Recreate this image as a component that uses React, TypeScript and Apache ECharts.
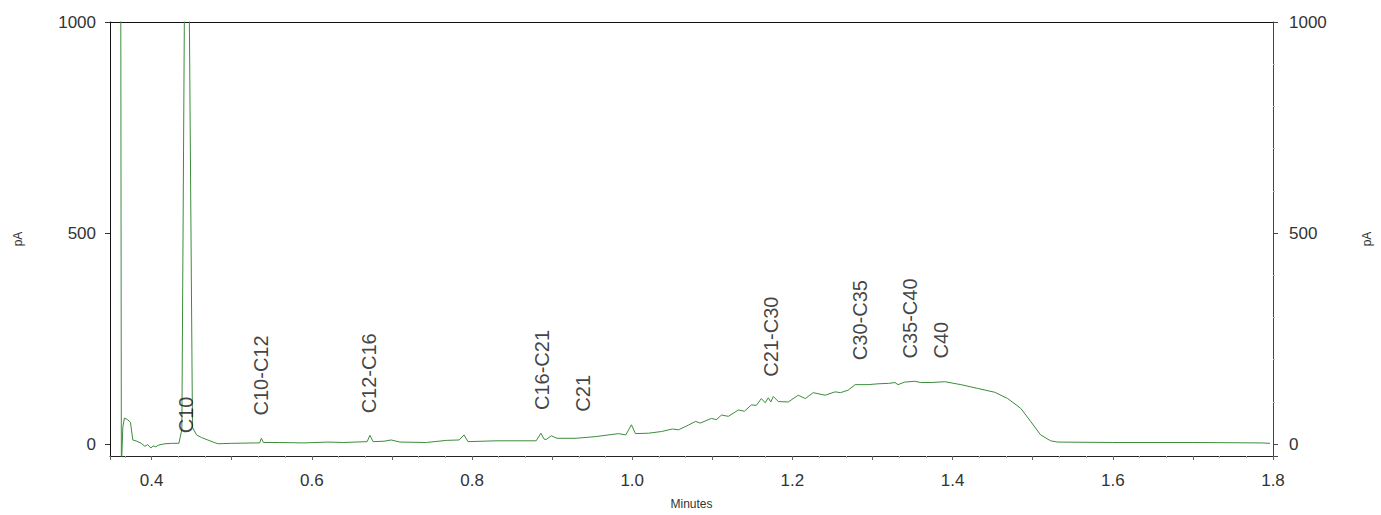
import React, { useEffect, useRef } from "react";
import * as echarts from "echarts";

// Chromatogram trace: retention time (min) and detector signal (pA)
const traceTime = [
  0.3605, 0.3622, 0.364, 0.366, 0.37, 0.3735, 0.3765, 0.3816, 0.387, 0.3916,
  0.395, 0.399, 0.402, 0.405, 0.409, 0.4165, 0.425, 0.434, 0.4377, 0.4408,
  0.442, 0.446, 0.4471, 0.451, 0.456, 0.462, 0.47, 0.478, 0.483, 0.5,
  0.53, 0.5348, 0.537, 0.5395, 0.56, 0.59, 0.62, 0.64, 0.669, 0.6725,
  0.6765, 0.69, 0.699, 0.71, 0.743, 0.768, 0.784, 0.79, 0.795, 0.83,
  0.88, 0.886, 0.89, 0.8925, 0.899, 0.906, 0.93, 0.9545, 0.983, 0.992,
  0.999, 1.004, 1.0205, 1.0367, 1.05, 1.0578, 1.07, 1.079, 1.085, 1.0989,
  1.105, 1.1114, 1.12, 1.1326, 1.14, 1.1487, 1.155, 1.1612, 1.166, 1.1699,
  1.173, 1.1761, 1.1824, 1.1948, 1.2073, 1.216, 1.226, 1.2409, 1.2534, 1.26,
  1.2696, 1.2783, 1.2945, 1.3069, 1.32, 1.3281, 1.3318, 1.34, 1.353, 1.36,
  1.3729, 1.3903, 1.4103, 1.4314, 1.4526, 1.4688, 1.485, 1.4974, 1.5099, 1.5223,
  1.5311, 1.6, 1.7, 1.785, 1.7962,
];
const traceSignal = [
  2500, -60, 40, 62, 58, 52, 10, 7, 2, -5,
  -1, -9, -4, -6, -2, 1, 2, 2, 35, 1000,
  1500, 1500, 1000, 40, 22, 16, 10, 4, 1, 2,
  3, 3, 14, 4, 4, 3, 5, 4, 6, 21,
  6, 7, 10, 5, 4, 9, 10, 22, 6, 8,
  8, 26, 12, 11, 20, 14, 14, 18, 25, 22,
  46, 25, 26, 30, 36, 34, 45, 54, 50, 61,
  58, 69, 66, 81, 78, 93, 92, 108, 98, 110,
  100, 113, 101, 100, 116, 108, 122, 116, 124, 122,
  128, 141, 141, 143, 144, 146, 141, 147, 149, 146,
  146, 148, 141, 132, 123, 108, 85, 54, 22, 8,
  5, 4, 4, 3, 2,
];

// Peak annotations
const peakNames = ["C10", "C10-C12", "C12-C16", "C16-C21", "C21", "C21-C30", "C30-C35", "C35-C40", "C40"];
const peakTimes = [0.4435, 0.536, 0.6718, 0.8872, 0.9389, 1.173, 1.2845, 1.3473, 1.3853];
const peakLabelLevels = [26, 68, 73, 81, 77, 160, 199, 203, 203];

// Axis tick labels
const xTickLabels = ["0.4", "0.6", "0.8", "1.0", "1.2", "1.4", "1.6", "1.8"];
const yTickLabels = ["0", "500", "1000"];

const FONT = "'Liberation Sans', Arial, Helvetica, sans-serif";

export default function App() {
  const ref = useRef<HTMLDivElement>(null);

  useEffect(() => {
    if (!ref.current) return;
    const chart = echarts.init(ref.current, undefined, { renderer: "svg" });

    const xFmt = (v: number) => {
      const s = v.toFixed(1);
      return Math.abs(v - parseFloat(s)) < 1e-6 && xTickLabels.includes(s) ? s : "";
    };
    const yFmt = (v: number) => (yTickLabels.includes(String(v)) ? String(v) : "");

    const axisLabelCommon = { fontSize: 17, color: "#333", fontFamily: FONT };

    chart.setOption({
      animation: false,
      backgroundColor: "#ffffff",
      grid: { left: 110, right: 105, top: 22, bottom: 57, containLabel: false },
      xAxis: [
        {
          type: "value",
          min: 0.348,
          max: 1.8,
          splitNumber: 14,
          position: "bottom",
          axisLine: { show: true, onZero: false, lineStyle: { color: "#222", width: 1 } },
          axisTick: { show: true, length: 4, lineStyle: { color: "#666" } },
          minorTick: { show: true, splitNumber: 3, length: 2, lineStyle: { color: "#aaa" } },
          axisLabel: { ...axisLabelCommon, formatter: xFmt, margin: 16, showMinLabel: false },
          splitLine: { show: false },
          name: "Minutes",
          nameLocation: "middle",
          nameGap: 42,
          nameTextStyle: { fontSize: 12, color: "#333", fontFamily: FONT },
        },
        {
          type: "value",
          min: 0.348,
          max: 1.8,
          position: "top",
          axisLine: { show: true, onZero: false, lineStyle: { color: "#111", width: 1 } },
          axisTick: { show: false },
          axisLabel: { show: false },
          splitLine: { show: false },
        },
      ],
      yAxis: [
        {
          type: "value",
          min: -28,
          max: 1000,
          splitNumber: 2,
          position: "left",
          axisLine: { show: true, onZero: false, lineStyle: { color: "#111", width: 1 } },
          axisTick: { show: true, length: 5, lineStyle: { color: "#333" } },
          axisLabel: { ...axisLabelCommon, formatter: yFmt, margin: 14, showMinLabel: false },
          splitLine: { show: false },
          name: "pA",
          nameLocation: "middle",
          nameGap: 86,
          nameRotate: 90,
          nameTextStyle: { fontSize: 12, color: "#333", fontFamily: FONT },
        },
        {
          type: "value",
          min: -28,
          max: 1000,
          splitNumber: 2,
          position: "right",
          axisLine: { show: true, onZero: false, lineStyle: { color: "#444", width: 1 } },
          axisTick: { show: true, length: 5, lineStyle: { color: "#444" } },
          minorTick: { show: true, splitNumber: 5, length: 2, lineStyle: { color: "#bbb" } },
          axisLabel: { ...axisLabelCommon, formatter: yFmt, margin: 16, showMinLabel: false },
          splitLine: { show: false },
          name: "pA",
          nameLocation: "middle",
          nameGap: 88,
          nameRotate: 90,
          nameTextStyle: { fontSize: 12, color: "#333", fontFamily: FONT },
        },
      ],
      series: [
        {
          type: "line",
          xAxisIndex: 0,
          yAxisIndex: 0,
          data: traceTime.map((t, i) => [t, traceSignal[i]]),
          showSymbol: false,
          symbol: "none",
          smooth: false,
          clip: true,
          lineStyle: { color: "#3c8c3c", width: 1 },
          z: 2,
        },
        {
          type: "scatter",
          xAxisIndex: 0,
          yAxisIndex: 0,
          symbolSize: 1,
          itemStyle: { color: "rgba(0,0,0,0)" },
          data: peakTimes.map((t, i) => ({ name: peakNames[i], value: [t, peakLabelLevels[i]] })),
          label: {
            show: true,
            formatter: "{b}",
            position: "inside",
            rotate: 90,
            align: "left",
            verticalAlign: "middle",
            fontSize: 20,
            color: "#111",
            fontFamily: FONT,
          },
          labelLayout: { hideOverlap: false },
          z: 3,
        },
      ],
    });

    return () => chart.dispose();
  }, []);

  return (
    <div
      ref={ref}
      style={{ position: "absolute", left: 0, top: 0, width: 1381, height: 515, background: "#fff" }}
    />
  );
}
